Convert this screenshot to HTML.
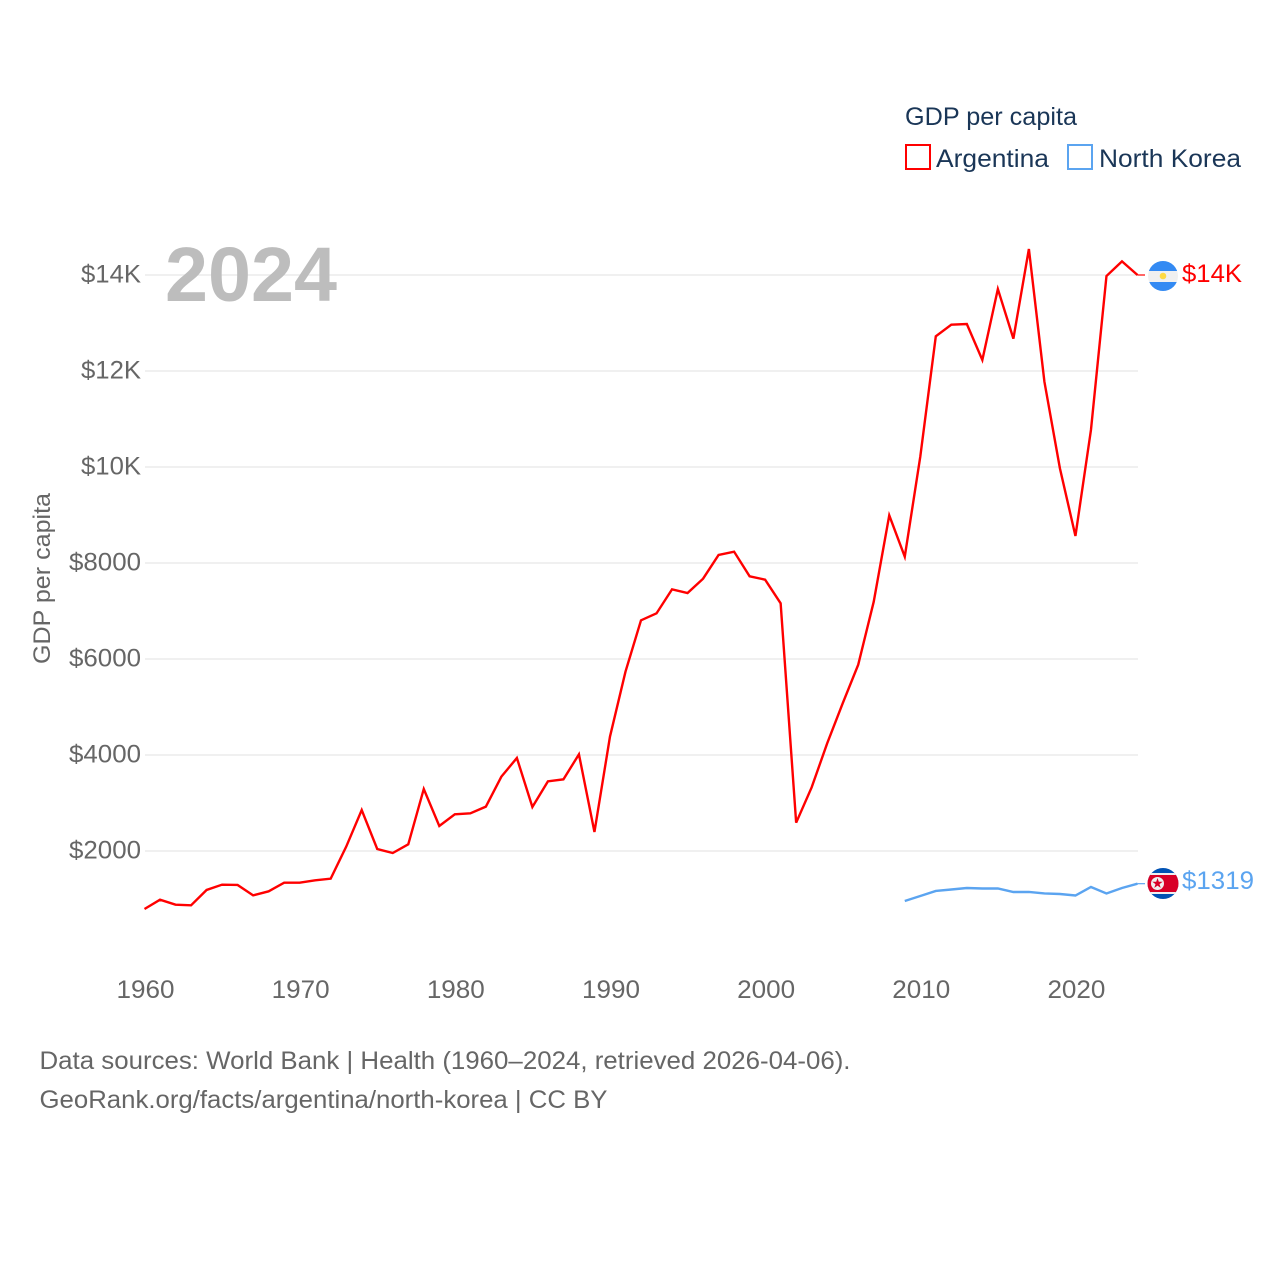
<!DOCTYPE html>
<html lang="en">
<head>
<meta charset="utf-8">
<title>GDP per capita: Argentina and North Korea</title>
<style>
html,body{margin:0;padding:0;background:#fff;width:1280px;height:1280px;overflow:hidden}
svg{display:block}
text{font-family:"Liberation Sans",Arial,sans-serif}
</style>
</head>
<body>
<svg id="chart" width="1280" height="1280" viewBox="0 0 1280 1280" xmlns="http://www.w3.org/2000/svg">
  <g id="grid"></g>
  <g id="yticks"></g>
  <g id="xticks"></g>
  <text x="165" y="301" font-size="77" font-weight="700" fill="#bdbdbd" textLength="172" lengthAdjust="spacingAndGlyphs">2024</text>
  <text transform="translate(50,578.5) rotate(-90)" text-anchor="middle" font-size="24" fill="#666" textLength="171" lengthAdjust="spacingAndGlyphs">GDP per capita</text>
  <g id="series"></g>

  <g>
    <text x="905" y="125" font-size="25" fill="#1a3657" textLength="172" lengthAdjust="spacingAndGlyphs">GDP per capita</text>
    <rect x="906" y="145" width="24" height="24" fill="none" stroke="#ff0000" stroke-width="2"/>
    <text x="936" y="167" font-size="25" fill="#1a3657" textLength="113" lengthAdjust="spacingAndGlyphs">Argentina</text>
    <rect x="1068" y="145" width="24" height="24" fill="none" stroke="#5ba4f0" stroke-width="2"/>
    <text x="1099" y="167" font-size="25" fill="#1a3657" textLength="142" lengthAdjust="spacingAndGlyphs">North Korea</text>
  </g>

  <defs>
    <clipPath id="clip-ar"><circle cx="1163" cy="276" r="15"/></clipPath>
    <clipPath id="clip-kp"><circle cx="1163" cy="883.5" r="15.5"/></clipPath>
  </defs>
  <g clip-path="url(#clip-ar)">
    <rect x="1148" y="261" width="30" height="30" fill="#f0f0f0"/>
    <rect x="1148" y="261" width="30" height="10" fill="#338af3"/>
    <rect x="1148" y="282" width="30" height="9" fill="#338af3"/>
    <circle cx="1163" cy="276" r="3.3" fill="#ffda44"/>
  </g>
  <g clip-path="url(#clip-kp)">
    <rect x="1147" y="868" width="32" height="31" fill="#0052b4"/>
    <rect x="1147" y="873" width="32" height="21" fill="#f0f0f0"/>
    <rect x="1147" y="875" width="32" height="17" fill="#d80027"/>
    <circle cx="1157.5" cy="883.5" r="6.5" fill="#f0f0f0"/>
    <polygon points="1157.5,878 1158.8,881.7 1162.7,881.7 1159.5,884.1 1160.7,887.9 1157.5,885.6 1154.3,887.9 1155.5,884.1 1152.3,881.7 1156.2,881.7" fill="#d80027"/>
  </g>
  <text x="1182" y="282" font-size="25" fill="#ff0000" textLength="60" lengthAdjust="spacingAndGlyphs">$14K</text>
  <text x="1182" y="889" font-size="25" fill="#5ba4f0" textLength="72" lengthAdjust="spacingAndGlyphs">$1319</text>

  <text x="39.5" y="1069" font-size="25" fill="#666" textLength="811" lengthAdjust="spacingAndGlyphs">Data sources: World Bank | Health (1960–2024, retrieved 2026-04-06).</text>
  <text x="39.5" y="1108" font-size="25" fill="#666" textLength="568" lengthAdjust="spacingAndGlyphs">GeoRank.org/facts/argentina/north-korea | CC BY</text>
</svg>
<script>
var argentinaYears = [1960,1961,1962,1963,1964,1965,1966,1967,1968,1969,1970,1971,1972,1973,1974,1975,1976,1977,1978,1979,1980,1981,1982,1983,1984,1985,1986,1987,1988,1989,1990,1991,1992,1993,1994,1995,1996,1997,1998,1999,2000,2001,2002,2003,2004,2005,2006,2007,2008,2009,2010,2011,2012,2013,2014,2015,2016,2017,2018,2019,2020,2021,2022,2023,2024];
var argentinaValues = [792,985,882,868,1188,1299,1292,1076,1160,1340,1340,1389,1424,2090,2854,2042,1958,2139,3292,2521,2764,2785,2924,3549,3938,2917,3451,3493,4014,2396,4382,5736,6806,6951,7451,7375,7673,8167,8236,7723,7653,7160,2590,3327,4243,5076,5881,7194,8993,8132,10215,12722,12965,12979,12229,13708,12674,14542,11778,9972,8563,10771,13979,14285,14000];
var koreaYears = [2009,2010,2011,2012,2013,2014,2015,2016,2017,2018,2019,2020,2021,2022,2023,2024];
var koreaValues = [958,1062,1167,1198,1229,1219,1219,1146,1146,1115,1104,1073,1250,1115,1229,1319];
var yTickValues = [2000,4000,6000,8000,10000,12000,14000];
var yTickLabels = ["$2000","$4000","$6000","$8000","$10K","$12K","$14K"];
var xTickYears = [1960,1970,1980,1990,2000,2010,2020];

var SVG_NS = "http://www.w3.org/2000/svg";
function xScale(year){ return 144.5 + (year - 1960) * (1137.5 - 144.5) / 64; }
function yScale(value){ return 947 - value * 0.048; }
function make(tag, attrs, parent){
  var el = document.createElementNS(SVG_NS, tag);
  for (var k in attrs) el.setAttribute(k, attrs[k]);
  parent.appendChild(el);
  return el;
}
var gridGroup = document.getElementById("grid");
var yGroup = document.getElementById("yticks");
var xGroup = document.getElementById("xticks");
var seriesGroup = document.getElementById("series");

yTickValues.forEach(function(v, i){
  var line = make("line", {x1:145, x2:1138, y1:yScale(v), y2:yScale(v), stroke:"#ececec", "stroke-width":1.5}, gridGroup);
  
  
  var label = make("text", {x:141, y:yScale(v)+7.5, "text-anchor":"end", "font-size":25, fill:"#666"}, yGroup);
  
  
  label.setAttribute('textLength', yTickLabels[i].length === 4 ? 60 : 72);
  label.setAttribute('lengthAdjust', 'spacingAndGlyphs');
  label.textContent = yTickLabels[i];
});
xTickYears.forEach(function(y){
  var label = make("text", {x:xScale(y)+1, y:998, "text-anchor":"middle", "font-size":25, fill:"#666"}, xGroup);
  
  
  label.setAttribute('textLength', 58);
  label.setAttribute('lengthAdjust', 'spacingAndGlyphs');
  label.textContent = y;
});
function drawSeries(years, values, color, name){
  var d = years.map(function(y, i){
    return (i ? "L" : "M") + xScale(y).toFixed(2) + " " + yScale(values[i]).toFixed(2);
  }).join(" ");
  var path = make("path", {d:d, fill:"none", stroke:color, "stroke-width":2.4, "stroke-linejoin":"miter"}, seriesGroup);
  
  
  var lastY = yScale(values[values.length-1]);
  var lastX = xScale(years[years.length-1]);
  var tail = make("line", {x1:lastX, x2:lastX+7.5, y1:lastY, y2:lastY, stroke:color, "stroke-width":1.2}, seriesGroup);
  
  
}
drawSeries(argentinaYears, argentinaValues, "#ff0000", "argentina-line");
drawSeries(koreaYears, koreaValues, "#5ba4f0", "north-korea-line");
</script>
</body>
</html>
